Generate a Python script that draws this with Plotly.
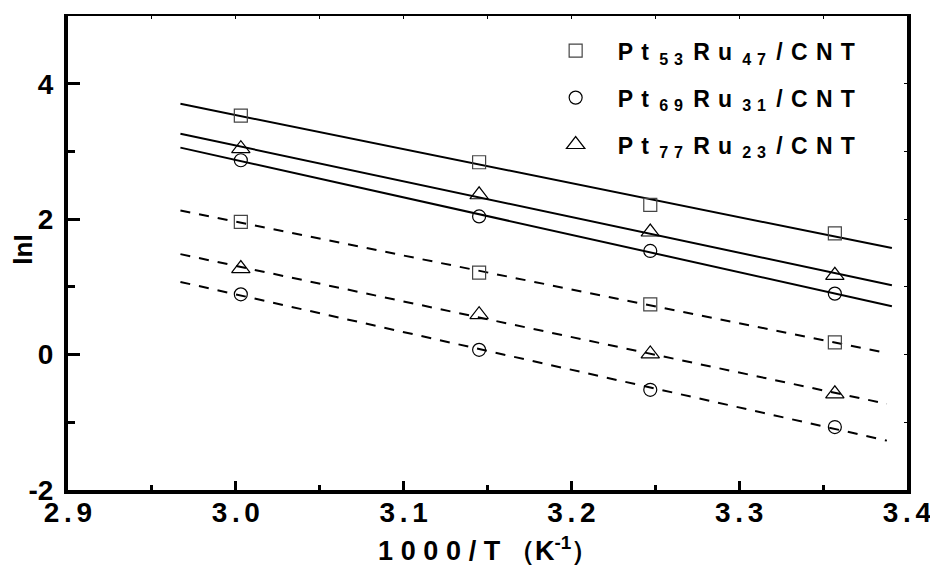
import numpy as np
import plotly.graph_objects as go

# ---- data ----
inv_T = [3.003, 3.145, 3.247, 3.357]          # 1000/T (K^-1)
catalysts = ["Pt53Ru47", "Pt69Ru31", "Pt77Ru23"]
# legend labels: (Pt index, Ru index)
legend_idx = [("53", "47"), ("69", "31"), ("77", "23")]
# solid-line series (upper)
lnI_upper = {
    "Pt53Ru47": [3.53, 2.84, 2.21, 1.79],
    "Pt69Ru31": [2.87, 2.04, 1.53, 0.90],
    "Pt77Ru23": [3.04, 2.36, 1.81, 1.17],
}
# dashed-line series (lower)
lnI_lower = {
    "Pt53Ru47": [1.96, 1.21, 0.74, 0.18],
    "Pt69Ru31": [0.89, 0.07, -0.52, -1.07],
    "Pt77Ru23": [1.27, 0.59, 0.01, -0.58],
}
x_ticks = [2.9, 3.0, 3.1, 3.2, 3.3, 3.4]
x_tick_labels = ["2.9", "3.0", "3.1", "3.2", "3.3", "3.4"]
y_ticks = [-2, 0, 2, 4]
y_tick_labels = ["-2", "0", "2", "4"]
fit_x_solid = [2.967, 3.391]
fit_x_dash = [2.967, 3.388]

symbols = {"Pt53Ru47": "square-open", "Pt69Ru31": "circle-open", "Pt77Ru23": "triangle-up-open"}
msizes = {"Pt53Ru47": 13, "Pt69Ru31": 13, "Pt77Ru23": 16}
mcolors = {"Pt53Ru47": "#444444", "Pt69Ru31": "#000000", "Pt77Ru23": "#000000"}

FONT = "Liberation Sans, Arial, sans-serif"
HS = "\u200a\u200a"            # tick label letter spacing
TS = "\u2009\u200a"            # title letter spacing
WS = "\u00a0\u200a"            # legend letter spacing
WS2 = "\u00a0\u200a\u200a"     # legend spacing around subscripts


def spaced(s, sep):
    return sep.join(list(s))


def legend_label(pt, ru):
    sub = lambda d: "<sub>" + spaced(d, WS) + "</sub>"
    return ("P" + WS + "t" + WS2 + sub(pt) + WS2 + "R" + WS + "u" + WS2 + sub(ru)
            + WS2 + "/" + WS + spaced("CNT", WS))


fig = go.Figure()

# fitted lines
for cat in catalysts:
    for vals, xs, dash in ((lnI_upper[cat], fit_x_solid, "solid"),
                           (lnI_lower[cat], fit_x_dash, "10px,9px")):
        k, b = np.polyfit(inv_T, vals, 1)
        xx = np.array(xs)
        fig.add_trace(go.Scatter(x=xx, y=k * xx + b, mode="lines",
                                 line=dict(color="black", width=2, dash=dash),
                                 showlegend=False, hoverinfo="skip"))

# markers
for cat, (pt, ru) in zip(catalysts, legend_idx):
    for vals, show in ((lnI_upper[cat], True), (lnI_lower[cat], False)):
        fig.add_trace(go.Scatter(
            x=inv_T, y=vals, mode="markers", name=legend_label(pt, ru),
            legendgroup=cat, showlegend=show,
            marker=dict(symbol=symbols[cat], size=msizes[cat],
                        color=mcolors[cat], line=dict(width=1.2, color=mcolors[cat])),
        ))

fig.update_layout(
    width=930, height=566,
    margin=dict(l=68, r=23, t=16, b=76, autoexpand=False),
    paper_bgcolor="white", plot_bgcolor="white",
    font=dict(family=FONT, color="black", size=26),
    showlegend=True,
    legend=dict(x=0.555, y=0.972, xanchor="left", yanchor="top",
                bgcolor="rgba(0,0,0,0)", borderwidth=0,
                font=dict(family=FONT, size=23, color="black", weight="bold"),
                itemwidth=74, traceorder="grouped", tracegroupgap=14),
    xaxis=dict(range=[2.9, 3.4], tickvals=x_ticks,
               ticktext=[spaced(t, HS) for t in x_tick_labels],
               ticks="inside", ticklen=9, tickwidth=3, tickcolor="black",
               minor=dict(dtick=0.05, tick0=2.9, ticks="inside", ticklen=5,
                          tickwidth=3, tickcolor="black"),
               showline=True, linewidth=4, linecolor="black",
               showgrid=False, zeroline=False, ticklabelstandoff=-6,
               ticklabeloverflow="allow", automargin=False,
               tickfont=dict(family=FONT, size=28, weight="bold")),
    yaxis=dict(range=[-2, 5], tickvals=y_ticks, ticktext=y_tick_labels,
               ticks="inside", ticklen=12, tickwidth=3, tickcolor="black",
               minor=dict(dtick=1, tick0=0, ticks="inside", ticklen=7,
                          tickwidth=3, tickcolor="black"),
               showline=True, linewidth=4, linecolor="black",
               showgrid=False, zeroline=False, ticklabelstandoff=5,
               ticklabeloverflow="allow", automargin=False,
               tickfont=dict(family=FONT, size=28, weight="bold")),
    xaxis2=dict(overlaying="x", side="top", matches="x", range=[2.9, 3.4],
                tick0=2.9, dtick=0.05, ticks="inside", ticklen=3, tickwidth=1,
                tickcolor="black", showticklabels=False, automargin=False,
                showline=True, linewidth=2, linecolor="black",
                showgrid=False, zeroline=False),
    yaxis2=dict(overlaying="y", side="right", matches="y", range=[-2, 5],
                tick0=0, dtick=1, ticks="inside", ticklen=3, tickwidth=1,
                tickcolor="black", showticklabels=False, automargin=False,
                showline=True, linewidth=4, linecolor="black",
                showgrid=False, zeroline=False),
    annotations=[
        dict(text=spaced("1000/T", TS) + TS + "（K<sup>-1</sup>）",
             xref="paper", yref="paper", x=0.5, y=-0.125,
             xanchor="center", yanchor="middle", showarrow=False,
             font=dict(family=FONT, size=27, weight="bold", color="black")),
        dict(text="lnI", textangle=-90,
             xref="paper", yref="paper", x=-0.053, y=0.506,
             xanchor="center", yanchor="middle", showarrow=False,
             font=dict(family=FONT, size=26, weight="bold", color="black")),
    ],
)
# dummy trace to activate the mirrored axes
fig.add_trace(go.Scatter(x=[None], y=[None], xaxis="x2", yaxis="y2",
                         showlegend=False, hoverinfo="skip"))

fig.write_html("out.html", config={"displayModeBar": False},
               post_script="document.body.style.margin='0';"
                           "document.body.style.overflow='hidden';")
